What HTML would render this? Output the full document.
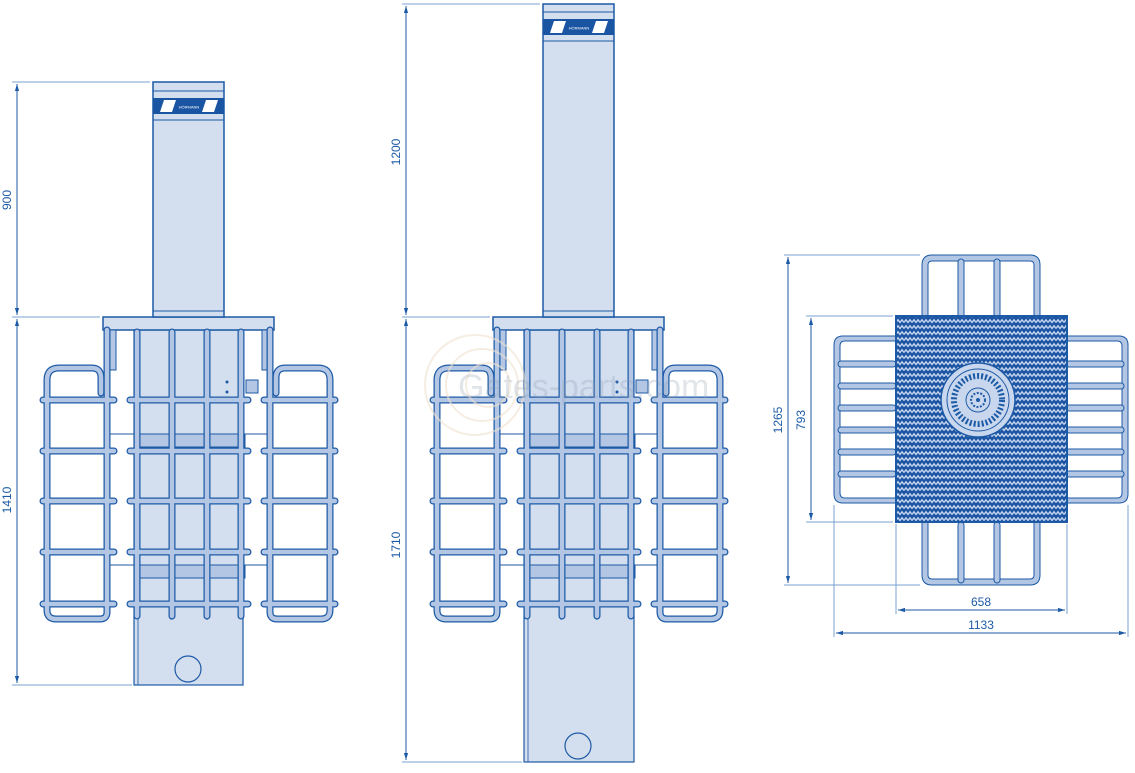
<!DOCTYPE html>
<html><head><meta charset="utf-8"><style>
html,body{margin:0;padding:0;background:#fff;width:1135px;height:773px;overflow:hidden}
svg{display:block}
text{font-family:"Liberation Sans",sans-serif;fill:#1d5aa6;font-size:12px}
</style></head><body>
<svg width="1135" height="773" viewBox="0 0 1135 773" xmlns="http://www.w3.org/2000/svg">
<defs>
<marker id="ar" viewBox="0 0 10 10" refX="10" refY="5" markerWidth="7" markerHeight="7" orient="auto-start-reverse"><path d="M0,2 L10,5 L0,8 z" fill="#1d5aa6"/></marker>
<pattern id="zz" width="8" height="6" patternUnits="userSpaceOnUse">
<rect width="8" height="6" fill="#1b55a4"/>
<path d="M0,4.5 L2,1.8 L4,4.5 L6,1.8 L8,4.5" stroke="#c9d7ee" stroke-width="1.4" fill="none"/>
</pattern>
<g id="rods">
  <path d="M137,332 V616 M172,332 V616 M207,332 V616 M241,332 V616"/>
  <path d="M107,330 V612 Q107,619 100,619 H56 Q47,619 47,610 V380 Q47,368 59,368 H92 Q101,368 101,378 V393"/>
  <path d="M270,330 V612 Q270,619 277,619 H321 Q330,619 330,610 V380 Q330,368 318,368 H285 Q276,368 276,378 V393"/>
  <path d="M43,400 H114 M130,400 H248 M264,400 H335"/>
  <path d="M43,451 H114 M130,451 H248 M264,451 H335"/>
  <path d="M43,501 H114 M130,501 H248 M264,501 H335"/>
  <path d="M43,552 H114 M130,552 H248 M264,552 H335"/>
  <path d="M43,604 H114 M130,604 H248 M264,604 H335"/>
</g>
<g id="base">
  <line x1="171" y1="330" x2="171" y2="620" stroke="#1d5aa6" stroke-width="0.8"/>
  <line x1="207" y1="330" x2="207" y2="620" stroke="#1d5aa6" stroke-width="0.8"/>
  <rect x="103" y="317" width="171" height="13" fill="#d3deef" stroke="#1d5aa6" stroke-width="1.5"/>
  <rect x="110" y="330" width="6" height="40" fill="#b3c7e4" stroke="#1d5aa6" stroke-width="1"/>
  <rect x="262" y="330" width="6" height="40" fill="#b3c7e4" stroke="#1d5aa6" stroke-width="1"/>
  <line x1="105" y1="434" x2="272" y2="434" stroke="#1d5aa6" stroke-width="1"/>
  <rect x="137" y="434" width="108" height="13" fill="#b3c7e4" stroke="#1d5aa6" stroke-width="1"/>
  <line x1="105" y1="565" x2="272" y2="565" stroke="#1d5aa6" stroke-width="1"/>
  <rect x="137" y="565" width="108" height="13" fill="#b3c7e4" stroke="#1d5aa6" stroke-width="1"/>
  <rect x="246" y="380" width="12" height="13" fill="#b3c7e4" stroke="#1d5aa6" stroke-width="1"/>
  <circle cx="227" cy="382" r="1.5" fill="#1d5aa6"/><circle cx="227" cy="392" r="1.5" fill="#1d5aa6"/>
  <use href="#rods" stroke="#1d5aa6" stroke-width="7" fill="none" stroke-linecap="round"/>
  <use href="#rods" stroke="#b3c7e4" stroke-width="4.5" fill="none" stroke-linecap="round"/>
</g>
</defs>

<!-- LEFT ELEVATION -->
<g>
  <rect x="134" y="330" width="109" height="355" fill="#d3deef" stroke="#1d5aa6" stroke-width="1.2"/>
  <line x1="138" y1="330" x2="138" y2="685" stroke="#1d5aa6" stroke-width="0.8"/>
  <use href="#base"/>
  <circle cx="188" cy="669" r="13" fill="none" stroke="#1d5aa6" stroke-width="1.2"/>
  <rect x="153" y="82" width="71" height="235" fill="#d3deef" stroke="#1d5aa6" stroke-width="1.5"/>
  <line x1="153" y1="91" x2="224" y2="91" stroke="#1d5aa6"/>
  <rect x="153" y="98" width="71" height="16" fill="#1a55a3"/>
  <polygon points="160,112 164,100 176,100 172,112" fill="#fff"/>
  <polygon points="202,112 206,100 218,100 214,112" fill="#fff"/>
  <text x="189" y="108.5" text-anchor="middle" style="font-size:4px;fill:#fff">HÖRMANN</text>
  <line x1="153" y1="120" x2="224" y2="120" stroke="#1d5aa6"/>
  <line x1="153" y1="311" x2="224" y2="311" stroke="#1d5aa6"/>
  <g stroke="#1d5aa6" stroke-width="1">
    <line x1="12" y1="82" x2="150" y2="82" stroke="#7aa0d0"/>
    <line x1="12" y1="317" x2="100" y2="317" stroke="#7aa0d0"/>
    <line x1="12" y1="685" x2="132" y2="685" stroke="#7aa0d0"/>
    <line x1="17" y1="84" x2="17" y2="315" marker-start="url(#ar)" marker-end="url(#ar)"/>
    <line x1="17" y1="319" x2="17" y2="683" marker-start="url(#ar)" marker-end="url(#ar)"/>
  </g>
  <text transform="translate(11,200) rotate(-90)" text-anchor="middle">900</text>
  <text transform="translate(11,500) rotate(-90)" text-anchor="middle">1410</text>
</g>

<!-- MIDDLE ELEVATION -->
<g>
  <g transform="translate(390,0)">
    <rect x="134" y="330" width="110" height="432" fill="#d3deef" stroke="#1d5aa6" stroke-width="1.2"/>
    <line x1="138" y1="330" x2="138" y2="762" stroke="#1d5aa6" stroke-width="0.8"/>
    <use href="#base"/>
    <circle cx="188" cy="746" r="13" fill="none" stroke="#1d5aa6" stroke-width="1.2"/>
  </g>
  <rect x="543" y="4" width="71" height="313" fill="#d3deef" stroke="#1d5aa6" stroke-width="1.5"/>
  <line x1="543" y1="12" x2="614" y2="12" stroke="#1d5aa6"/>
  <rect x="543" y="19" width="71" height="16" fill="#1a55a3"/>
  <polygon points="550,33 554,21 566,21 562,33" fill="#fff"/>
  <polygon points="592,33 596,21 608,21 604,33" fill="#fff"/>
  <text x="579" y="29.5" text-anchor="middle" style="font-size:4px;fill:#fff">HÖRMANN</text>
  <line x1="543" y1="41" x2="614" y2="41" stroke="#1d5aa6"/>
  <line x1="543" y1="311" x2="614" y2="311" stroke="#1d5aa6"/>
  <g stroke="#1d5aa6" stroke-width="1">
    <line x1="402" y1="4" x2="540" y2="4" stroke="#7aa0d0"/>
    <line x1="402" y1="317" x2="490" y2="317" stroke="#7aa0d0"/>
    <line x1="402" y1="762" x2="522" y2="762" stroke="#7aa0d0"/>
    <line x1="406" y1="6" x2="406" y2="315" marker-start="url(#ar)" marker-end="url(#ar)"/>
    <line x1="406" y1="319" x2="406" y2="760" marker-start="url(#ar)" marker-end="url(#ar)"/>
  </g>
  <text transform="translate(400,152) rotate(-90)" text-anchor="middle">1200</text>
  <text transform="translate(400,545) rotate(-90)" text-anchor="middle">1710</text>
  <g fill="none" stroke="#efe2cf" stroke-width="2" opacity="0.6">
    <circle cx="475" cy="385" r="50"/><circle cx="482" cy="385" r="36"/><circle cx="488" cy="385" r="22"/>
  </g>
  <text x="458" y="398" style="font-size:34px;fill:#8a9bb0;opacity:0.25">Gates-parts.com</text>
</g>

<!-- PLAN VIEW -->
<g>
  <g fill="#b3c7e4" stroke="#1d5aa6" stroke-width="1">
    <path d="M922,318 V265 Q922,255 932,255 H1030 Q1040,255 1040,265 V318 H1034 V265 Q1034,261 1030,261 H932 Q928,261 928,265 V318 Z"/>
    <path d="M922,522 V575 Q922,585 932,585 H1030 Q1040,585 1040,575 V522 H1034 V575 Q1034,579 1030,579 H932 Q928,579 928,575 V522 Z"/>
    <rect x="958" y="259" width="6" height="59" rx="3"/><rect x="994" y="259" width="6" height="59" rx="3"/>
    <rect x="958" y="522" width="6" height="61" rx="3"/><rect x="994" y="522" width="6" height="61" rx="3"/>
    <path d="M896,336 H843 Q834,336 834,345 V494 Q834,503 843,503 H896 V498 H845 Q840,498 840,493 V346 Q840,341 845,341 H896 Z"/>
    <path d="M1066,336 H1119 Q1128,336 1128,345 V494 Q1128,503 1119,503 H1066 V498 H1117 Q1122,498 1122,493 V346 Q1122,341 1117,341 H1066 Z"/>
    <rect x="838" y="361" width="58" height="6" rx="3"/><rect x="838" y="383" width="58" height="6" rx="3"/>
    <rect x="838" y="405" width="58" height="6" rx="3"/><rect x="838" y="427" width="58" height="6" rx="3"/>
    <rect x="838" y="449" width="58" height="6" rx="3"/><rect x="838" y="471" width="58" height="6" rx="3"/>
    <rect x="1066" y="361" width="58" height="6" rx="3"/><rect x="1066" y="383" width="58" height="6" rx="3"/>
    <rect x="1066" y="405" width="58" height="6" rx="3"/><rect x="1066" y="427" width="58" height="6" rx="3"/>
    <rect x="1066" y="449" width="58" height="6" rx="3"/><rect x="1066" y="471" width="58" height="6" rx="3"/>
  </g>
  <rect x="896" y="316" width="171" height="206" fill="url(#zz)" stroke="#1d5aa6" stroke-width="2"/>
  <circle cx="978" cy="400" r="37" fill="#c9d7ee" stroke="#1d5aa6" stroke-width="1.5"/>
  <circle cx="978" cy="400" r="31" fill="none" stroke="#1d5aa6" stroke-width="1"/>
  <circle cx="978" cy="400" r="24" fill="none" stroke="#1d5aa6" stroke-width="6" stroke-dasharray="2 2"/>
  <circle cx="978" cy="400" r="12" fill="#c9d7ee" stroke="#1d5aa6" stroke-width="1"/>
  <circle cx="978" cy="400" r="7" fill="none" stroke="#1d5aa6" stroke-width="2" stroke-dasharray="2 1.5"/>
  <circle cx="978" cy="400" r="2" fill="#1d5aa6"/>
  <g stroke="#1d5aa6" stroke-width="1">
    <line x1="784" y1="255" x2="920" y2="255" stroke="#7aa0d0"/>
    <line x1="784" y1="585" x2="920" y2="585" stroke="#7aa0d0"/>
    <line x1="806" y1="316" x2="893" y2="316" stroke="#7aa0d0"/>
    <line x1="806" y1="522" x2="893" y2="522" stroke="#7aa0d0"/>
    <line x1="788" y1="257" x2="788" y2="583" marker-start="url(#ar)" marker-end="url(#ar)"/>
    <line x1="811" y1="318" x2="811" y2="520" marker-start="url(#ar)" marker-end="url(#ar)"/>
    <line x1="896" y1="524" x2="896" y2="614" stroke="#7aa0d0"/>
    <line x1="1067" y1="524" x2="1067" y2="614" stroke="#7aa0d0"/>
    <line x1="834" y1="505" x2="834" y2="637" stroke="#7aa0d0"/>
    <line x1="1128" y1="505" x2="1128" y2="637" stroke="#7aa0d0"/>
    <line x1="898" y1="610" x2="1065" y2="610" marker-start="url(#ar)" marker-end="url(#ar)"/>
    <line x1="836" y1="633" x2="1126" y2="633" marker-start="url(#ar)" marker-end="url(#ar)"/>
  </g>
  <text transform="translate(782,420) rotate(-90)" text-anchor="middle">1265</text>
  <text transform="translate(805,420) rotate(-90)" text-anchor="middle">793</text>
  <text x="981" y="606" text-anchor="middle">658</text>
  <text x="981" y="629" text-anchor="middle">1133</text>
</g>
</svg>
</body></html>
